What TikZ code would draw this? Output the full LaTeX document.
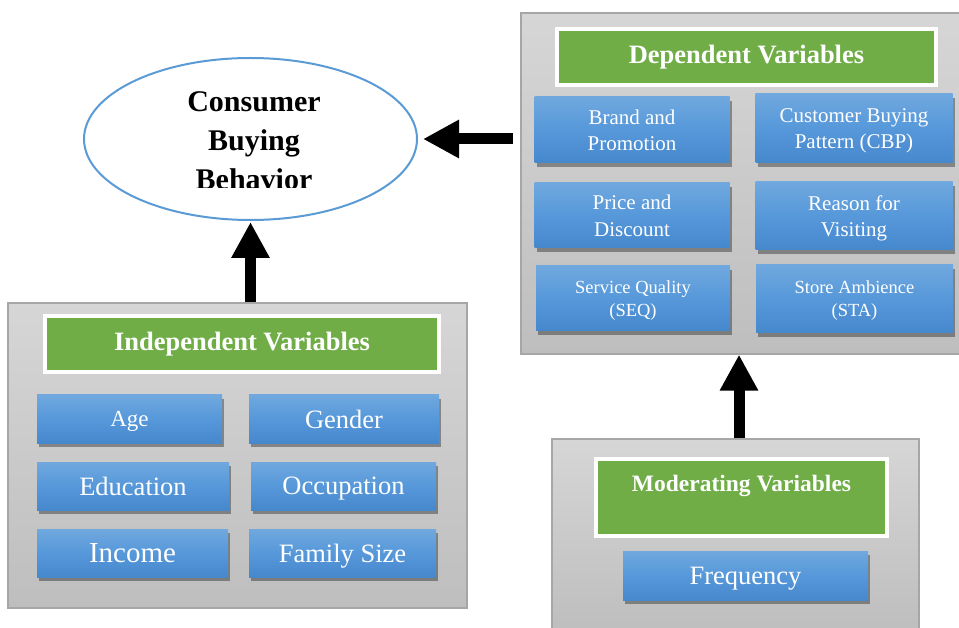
\documentclass[tikz,border=0pt]{standalone}
\usepackage{fontspec}
\setmainfont{Liberation Serif}
\usetikzlibrary{positioning,arrows.meta,shapes.geometric,shadows}
\definecolor{cbBlue}{RGB}{91,155,213}
\definecolor{cbBlueTop}{RGB}{112,168,222}
\definecolor{cbBlueMid}{RGB}{86,152,218}
\definecolor{cbBlueBot}{RGB}{70,136,204}
\definecolor{cbGreen}{RGB}{112,173,71}
\definecolor{cbGrayTop}{RGB}{214,214,214}
\definecolor{cbGrayBot}{RGB}{190,190,190}
\definecolor{cbGrayLine}{RGB}{166,166,166}
\tikzset{
    base/.style={align=center, inner sep=0pt},
    panel/.style={base, rectangle, draw=cbGrayLine, line width=1.2pt,
                  top color=cbGrayTop, bottom color=cbGrayBot},
    header/.style={base, rectangle, draw=white, line width=4pt, fill=cbGreen,
                   text=white, font=\bfseries\fontsize{26.5}{31}\selectfont},
    item/.style={base, rectangle, top color=cbBlueTop, bottom color=cbBlueBot,
                 middle color=cbBlueMid, text=white, text depth=0pt,
                 font=\fontsize{26.5}{32}\selectfont,
                 drop shadow={shadow xshift=2pt, shadow yshift=-4pt, opacity=0.35, fill=black}},
    itemmid/.style={font=\fontsize{21}{26.5}\selectfont},
    itemsmall/.style={font=\fontsize{18.5}{23}\selectfont},
    oval/.style={base, ellipse, draw=cbBlue, line width=2pt, fill=white},
    push/.style={-{Triangle[length=36pt,width=36pt]}, line width=11pt, black}
}
\begin{document}
\begin{tikzpicture}[x=1pt, y=-1pt]
  \path[use as bounding box, fill=white] (0,0) rectangle (959,628);
  \clip (0,0) rectangle (959,628);

  % grey panels
  \node[panel, minimum width=441pt, minimum height=341pt] (dep) at (741.5,183.5) {};
  \node[panel, minimum width=459pt, minimum height=305pt] (ind) at (237.5,455.5) {};
  \node[panel, minimum width=367pt, minimum height=193pt] (mod) at (735.5,535.5) {};

  % green headers
  \node[header, minimum width=379pt, minimum height=56pt] (depHead) at (746.5,57) {Dependent Variables};
  \node[header, minimum width=394pt, minimum height=56pt] (indHead) at (242,344) {Independent Variables};
  \node[header, minimum width=291pt, minimum height=77pt,
        font=\bfseries\fontsize{23.5}{28}\selectfont] (modHead) at (741.5,497.5) {Moderating Variables\\\mbox{}};

  % dependent variables
  \node[item, itemmid, minimum width=195pt, minimum height=66pt] (brand) at (632,130) {Brand and\\Promotion};
  \node[item, itemmid, minimum width=197pt, minimum height=69pt] (cbp) at (854,128.5) {Customer Buying\\Pattern (CBP)};
  \node[item, itemmid, minimum width=195pt, minimum height=65pt] (price) at (632,215.5) {Price and\\Discount};
  \node[item, itemmid, minimum width=197pt, minimum height=68pt] (reason) at (854,216) {Reason for\\Visiting};
  \node[item, itemsmall, minimum width=194pt, minimum height=65pt] (seq) at (633,298.5) {Service Quality\\(SEQ)};
  \node[item, itemsmall, minimum width=197pt, minimum height=68pt] (sta) at (854.5,299) {Store Ambience\\(STA)};

  % independent variables
  \node[item, minimum width=185pt, minimum height=48pt, font=\fontsize{23}{28}\selectfont] (age) at (129.5,419) {Age};
  \node[item, minimum width=190pt, minimum height=48pt] (gender) at (344,419) {Gender};
  \node[item, minimum width=192pt, minimum height=48pt] (education) at (133,486) {Education};
  \node[item, minimum width=185pt, minimum height=48pt] (occupation) at (343.5,486) {Occupation};
  \node[item, minimum width=191pt, minimum height=48pt, font=\fontsize{29}{34}\selectfont] (income) at (132.5,553) {Income};
  \node[item, minimum width=187pt, minimum height=48pt] (family) at (342.5,553) {Family Size};

  % moderating variable
  \node[item, minimum width=245pt, minimum height=49pt] (freq) at (745.5,575.5) {Frequency};

  % consumer buying behavior
  \node[oval, minimum width=333pt, minimum height=162pt] (cbb) at (250.5,139) {};
  \begin{scope}
    \clip (84,40) rectangle (417,187.5);
    \node[base, font=\bfseries\fontsize{30}{39}\selectfont] (cbbText) at (254,141) {Consumer\\Buying\\Behavior};
  \end{scope}

  % arrows
  \coordinate (modTop) at ([xshift=3.5pt]mod.north);
  \draw[push, shorten <=7pt, shorten >=5pt] (cbb.east -| dep.west) -- (cbb.east);
  \draw[push, shorten >=1pt] (ind.north -| cbb.south) -- (cbb.south);
  \draw[push] (modTop) -- (modTop |- dep.south);
\end{tikzpicture}
\end{document}
